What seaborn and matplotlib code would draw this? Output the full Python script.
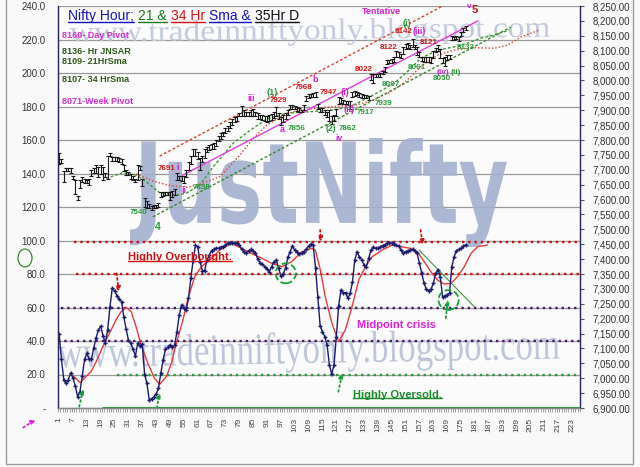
import numpy as np
import pandas as pd
import matplotlib
matplotlib.use("Agg")
import matplotlib.pyplot as plt
import seaborn as sns
from matplotlib.textpath import TextPath
from matplotlib.font_manager import FontProperties
from matplotlib.patches import PathPatch, Ellipse, Rectangle
from matplotlib.transforms import Affine2D
from matplotlib.lines import Line2D
from matplotlib.ticker import FuncFormatter, FixedLocator

# hourly oscillator (left axis), one value per bar
osc = [44, 29, 17, 14.7, 17, 21, 17.7, 13, 6.8, 9.7,
       19, 29, 32.6, 29, 29.3, 36, 42, 46.5, 49, 43,
       39, 46.5, 60.5, 71.5, 70, 67, 65, 63.5, 54.5, 47,
       40.6, 38.6, 35, 31, 38.6, 37, 38, 20, 14.7, 4.8,
       5.6, 6.6, 8.6, 11.7, 20.7, 28.6, 35, 36.2, 37.6, 36.6,
       37.6, 45.6, 55.5, 61.5, 59.5, 58.5, 65.5, 77.4, 88, 97.3,
       96.3, 87.3, 82, 82, 88.4, 91.3, 94, 94.8, 95.4, 95.4,
       96, 96.3, 97.3, 98.3, 98.7, 98.7, 98.5, 98.3, 97.5, 94.7,
       93.3, 92.7, 93.9, 94.7, 93.9, 92.7, 88.8, 86.8, 85.8, 84.4,
       82.8, 81.4, 84.4, 87.4, 88.4, 83.4, 78.8, 80, 83.4, 90,
       93.3, 96.7, 94.3, 93.3, 92, 92.3, 93.3, 94.7, 96.7, 97.9,
       97.3, 83.4, 66.5, 49, 45.6, 42.6, 37.6, 25.7, 20.3, 25.7,
       42.6, 60.9, 70.4, 68.8, 68.8, 65.5, 68.5, 75.4, 88.4, 93.3,
       90.3, 88.4, 85.4, 84.4, 89.4, 94.3, 95.9, 95.3, 95.3, 96.3,
       97, 97.5, 98.3, 98.7, 98.3, 97.9, 97.3, 96.7, 94.3, 92.7,
       93.3, 93.9, 94.3, 94.7, 93.9, 92.3, 86.4, 80.4, 74.4, 70.8,
       70, 70.8, 74.4, 80.4, 82.4, 78.4, 66.5, 66.9, 67.5, 68.5,
       84.4, 90.3, 93.9, 94.7, 95.3, 96.7, 97.5]

# red average of the oscillator
osc_avg_x = [6.8, 10.1, 12.6, 14.8, 17, 20.6, 23.5, 25.6, 27.8, 30, 32.2, 34.3, 36.5,
             39.4, 42.3, 44.5, 47.4, 49.6, 51.7, 54.6, 56.8, 59.7, 62.6, 67, 71.3, 75.7,
             80, 84.3, 88.7, 93, 97.4, 101.7, 106.1, 110.4, 111.9, 114.1, 116.2, 119.1,
             122, 124.9, 127.8, 130.7, 133.6, 136.5, 140.9, 145.2, 148.8, 153.2, 156.1,
             159, 161.9, 164.8, 167.7, 170.6, 173.5, 176.4, 179.3, 182.2, 186.5]
osc_avg_y = [19.7, 15.1, 18.7, 21.7, 27.6, 38.6, 46.6, 52.5, 57.5, 60.1, 57.5, 48.5, 37.6,
             26.7, 17.7, 14.1, 18.7, 26.7, 38.6, 52.5, 65.5, 78.4, 84.4, 89.4, 95.3, 98.3,
             95.3, 92.3, 89.4, 86.4, 84.4, 87.4, 93.3, 95.3, 94.3, 82.4, 66.5, 50.6,
             39.6, 46.6, 60.5, 76.4, 84.4, 90.3, 94.3, 97.3, 96.3, 95.3, 93.3,
             87.4, 81.4, 76.4, 74, 74.4, 78.4, 84.4, 92.3, 96.3, 97.3]

# hourly price bars (right axis)
price_low = [7720, 7722, 7660, 7695, 7695, 7688, 7668, 7620, 7600, 7640,
             7660, 7655, 7655, 7650, 7680, 7690, 7690, 7675, 7685, 7665,
             7675, 7670, 7745, 7730, 7728, 7728, 7725, 7718, 7695, 7683,
             7683, 7670, 7665, 7658, 7665, 7700, 7645, 7575, 7570, 7570,
             7565, 7570, 7572, 7575, 7610, 7612, 7615, 7615, 7600, 7610,
             7615, 7665, 7665, 7662, 7655, 7675, 7700, 7720, 7745, 7745,
             7735, 7700, 7725, 7740, 7760, 7765, 7770, 7770, 7780, 7795,
             7805, 7815, 7822, 7830, 7840, 7850, 7860, 7865, 7880, 7880,
             7880, 7882, 7880, 7882, 7880, 7882, 7870, 7872, 7868, 7865,
             7862, 7865, 7868, 7875, 7880, 7870, 7850, 7862, 7870, 7885,
             7905, 7905, 7903, 7898, 7895, 7895, 7900, 7930, 7940, 7945,
             7945, 7945, 7905, 7895, 7895, 7885, 7878, 7865, 7855, 7865,
             7880, 7920, 7925, 7920, 7920, 7918, 7905, 7945, 7948, 7950,
             7945, 7942, 7940, 7940, 7935, 8000, 7990, 8010, 8010, 8012,
             8020, 8028, 8055, 8058, 8060, 8062, 8078, 8080, 8075, 8090,
             8105, 8110, 8105, 8112, 8105, 8085, 8078, 8065, 8062, 8062,
             8062, 8060, 8075, 8095, 8100, 8075, 8060, 8050, 8070, 8072,
             8135, 8135, 8138, 8132, 8150, 8162, 8168]
price_high = [7755, 7735, 7695, 7705, 7705, 7705, 7680, 7665, 7612, 7665,
              7675, 7670, 7665, 7670, 7700, 7705, 7715, 7710, 7715, 7710,
              7690, 7745, 7755, 7742, 7742, 7742, 7738, 7735, 7715, 7698,
              7693, 7685, 7680, 7668, 7715, 7712, 7670, 7605, 7595, 7585,
              7578, 7582, 7582, 7588, 7625, 7625, 7625, 7625, 7625, 7630,
              7635, 7690, 7680, 7678, 7680, 7700, 7725, 7745, 7770, 7770,
              7760, 7740, 7745, 7770, 7778, 7782, 7785, 7790, 7800, 7812,
              7825, 7828, 7840, 7848, 7860, 7870, 7878, 7882, 7892, 7915,
              7900, 7895, 7895, 7900, 7905, 7895, 7890, 7885, 7885, 7882,
              7880, 7885, 7888, 7895, 7910, 7890, 7878, 7885, 7890, 7900,
              7918, 7918, 7915, 7912, 7908, 7902, 7918, 7948, 7955, 7955,
              7958, 7960, 7920, 7908, 7908, 7900, 7895, 7902, 7880, 7885,
              7905, 7945, 7940, 7935, 7932, 7932, 7930, 7960, 7965, 7962,
              7958, 7955, 7952, 7950, 7948, 8020, 8020, 8022, 8022, 8025,
              8032, 8045, 8070, 8068, 8072, 8078, 8100, 8095, 8090, 8112,
              8122, 8125, 8120, 8140, 8120, 8112, 8095, 8080, 8078, 8078,
              8078, 8080, 8098, 8110, 8120, 8105, 8075, 8080, 8085, 8085,
              8148, 8145, 8148, 8145, 8162, 8176, 8182]

# 21 hr and 34 hr averages on price (displaced)
sma21_x = [21.3, 28.5, 34.3, 38.7, 44.5, 51.7, 56, 61.9, 67.7, 76.3, 83.6, 90.9, 99.6,
           109.7, 119.8, 127, 137, 145.9, 151.7, 157.5, 164.8, 172, 177.8, 183.6, 189, 195.8]
sma21_y = [7671, 7690, 7682, 7660, 7623, 7615, 7621, 7649, 7710, 7789, 7832, 7871, 7890,
           7895, 7901, 7912, 7951, 7990, 8029, 8074, 8102, 8113, 8125, 8142, 8152, 8169]
sma34_x = [34.3, 42.3, 49.6, 56.8, 64, 70.6, 79.3, 85, 90.9, 98.1, 105.3, 119.8, 130,
           137, 145.9, 151.7, 157.5, 164.8, 172, 180.6, 189.3, 195, 201, 208.8]
sma34_y = [7686, 7660, 7646, 7641, 7657, 7677, 7750, 7806, 7850, 7884, 7901, 7912, 7918,
           7934, 7968, 8001, 8046, 8085, 8102, 8110, 8108, 8118, 8146, 8169]

# trend lines on price
channel_top_x, channel_top_y = [44.5, 171.9], [7746, 8270]
pink_line_x, pink_line_y = [54.5, 182.3], [7682, 8200]
support_x, support_y = [41.6, 196.6], [7542, 8179]
osc_trend_x, osc_trend_y = [156.8, 180.7], [94.3, 60.5]

# oscillator zones: (level, first bar, colour, style)
zones = [(99, 7.5, "#c81010", ":"), (80, 8.4, "#c81010", ":"),
         (59.5, 1.9, "#4a1a6a", ":"), (40.2, 0.5, "#4a1a6a", ":"),
         (19.7, 26.2, "#2a9a3a", ":"), (0, 19.7, "#1f9a2f", "-")]

# wave labels on price: text, bar, price, colour, size
wave_labels = [("7540", 35.3, 7558, "#2a9a3a", 5.8), ("4", 43.6, 7508, "#2a9a3a", 7.5),
               ("7691", 47.5, 7703, "#d01818", 5.8), ("i", 52.3, 7709, "#d020d0", 6.5),
               ("ii", 54.9, 7629, "#d020d0", 6.5), ("7658", 62.7, 7639, "#2a9a3a", 5.8),
               ("iii", 84, 7941, "#d020d0", 6.5), ("(1)", 93.2, 7961, "#2a9a3a", 6.5),
               ("7929", 95.8, 7934, "#d01818", 5.8), ("7968", 106.7, 7975, "#d01818", 5.8),
               ("b", 111.9, 8002, "#d020d0", 6.5), ("a", 97.5, 7834, "#d020d0", 6.5),
               ("7856", 103.6, 7837, "#2a9a3a", 5.8), ("7947", 117.5, 7958, "#d01818", 5.8),
               ("(i)", 124.5, 7961, "#d020d0", 6.5), ("(2)", 118.6, 7840, "#2a9a3a", 6.2),
               ("7862", 125.8, 7840, "#2a9a3a", 5.8), ("iv", 122.2, 7806, "#d020d0", 6.2),
               ("(ii)", 126.7, 7901, "#d020d0", 6.5), ("7917", 133.6, 7891, "#2a9a3a", 5.8),
               ("7939", 141.4, 7924, "#2a9a3a", 5.8), ("8007", 144.5, 7985, "#2a9a3a", 5.8),
               ("8022", 132.7, 8038, "#d01818", 5.8), ("8122", 143.6, 8112, "#d01818", 5.8),
               ("8142", 150.1, 8163, "#d01818", 5.8), ("(i)", 151.4, 8190, "#2a9a3a", 6.5),
               ("(iii)", 156.9, 8163, "#d020d0", 6.2), ("8121", 161, 8129, "#d01818", 5.8),
               ("8061", 155.8, 8045, "#2a9a3a", 5.8), ("(iv)", 167.0, 8028, "#d020d0", 6.0),
               ("(ii)", 172.6, 8028, "#2a9a3a", 6.0), ("8050", 166.7, 8005, "#2a9a3a", 5.8),
               ("8133", 177.1, 8112, "#2a9a3a", 5.8), ("Tentative", 140.6, 8233, "#d020d0", 6.5),
               ("v", 178.4, 8247, "#d020d0", 6), ("5", 181, 8237, "#d01818", 8)]

pivot_notes = ["8160- Day Pivot", "8136- Hr JNSAR", "8109- 21HrSma", "8107- 34 HrSma", "8071-Week Pivot"]
pivot_colors = ["#d030d0", "#2f5a1a", "#2f5a1a", "#2f5a1a", "#d030d0"]
pivot_rows = [35, 52, 62, 80, 101]

title_parts = ["Nifty Hour;", "21 &", "34 Hr", "Sma &", "35Hr D"]
title_colors = ["#1212c8", "#1a7a1a", "#e01010", "#1212c8", "#101010"]

bars = np.arange(1, len(osc) + 1)

W, H = 640, 467
sns.set_theme(style="white")
plt.rcParams["font.family"] = ["Liberation Sans", "DejaVu Sans"]

fig = plt.figure(figsize=(W / 100, H / 100), dpi=100, facecolor="#f9f9f9")
ax = fig.add_axes([58 / W, 1 - 408 / H, 522 / W, 402 / H])
ax.set_facecolor("#fbfbfb")
ax2 = ax.twinx()


def stamp(text, box, color, family, weight, rot=0.0, z=0.6, alpha=1.0):
    # fit a text outline into a pixel box (x0, top, x1, bottom)
    x0, y0, x1, y1 = box
    path = TextPath((0, 0), text, size=10, prop=FontProperties(family=family, weight=weight))
    ext = path.get_extents()
    tr = (Affine2D().translate(-ext.x0, -ext.y0)
          .scale((x1 - x0) / ext.width, (y1 - y0) / ext.height)
          .rotate_deg(rot).translate(x0, H - y1).scale(1 / W, 1 / H)) + fig.transFigure
    ax.add_patch(PathPatch(path, transform=tr, facecolor=color, edgecolor="none",
                           alpha=alpha, zorder=z, clip_on=False))


# watermarks
stamp("www.tradeinniftyonly.blogspot.com", (70, 21, 550, 48), "#c3cbdc", "Liberation Serif", "normal", 0.6)
stamp("www.tradeinniftyonly.blogspot.com", (58, 336, 560, 377), "#bec7da", "Liberation Serif", "normal", 1.0)
stamp("JustNifty", (130, 138, 507, 247), "#a4b0d0", "DejaVu Sans", "bold", 0, alpha=0.9)

# left axis: oscillator
ax.set_xlim(0.5, 226.5)
ax.set_ylim(0, 240)
ax.set_yticks(np.arange(0, 241, 20))
ax.yaxis.set_major_formatter(FuncFormatter(lambda v, p: "-" if v == 0 else f"{v:.1f}"))
ax.grid(axis="y", color="#9a9a9a", lw=0.9)
ax.grid(axis="x", visible=False)
ax.tick_params(axis="y", length=0, pad=9, labelsize=7, labelcolor="#333333")
ax.set_xticks(np.arange(1, 227, 6))
ax.set_xticklabels([str(t) for t in np.arange(1, 227, 6)], rotation=90)
ax.xaxis.set_minor_locator(FixedLocator(np.arange(0.5, 227, 1)))
ax.tick_params(axis="x", which="major", length=0, pad=7, labelsize=6, labelcolor="#444444")
ax.tick_params(axis="x", which="minor", bottom=True, length=3, width=0.6, color="#999999")

for lvl, start, col, ls in zones:
    ax.hlines(lvl, start, 226.5, colors=col, linestyles=ls, lw=1.7 if ls == ":" else 2.2, zorder=2)

sns.lineplot(x=osc_avg_x, y=osc_avg_y, ax=ax, color="#e83a3a", lw=1.0, zorder=3)
sns.lineplot(x=bars, y=osc, ax=ax, color="#1b1b70", lw=1.0, marker="+", markersize=3.5,
             markeredgewidth=1.0, markeredgecolor="#1b1b70", zorder=4)
ax.plot(osc_trend_x, osc_trend_y, color="#3a9a3a", lw=0.8, zorder=3)
ax.set_xlabel("")
ax.set_ylabel("")

# arrows and circles on oscillator
for (x0, y0), (x1, y1), col in [((25.9, 80.4), (26.8, 69.4), "#d01010"),
                                ((114, 106.3), (114.3, 99.3), "#d01010"),
                                ((157.5, 106.3), (158.3, 97.3), "#d01010"),
                                ((9.7, 0.8), (11.4, 11.3), "#1aa03a"),
                                ((43.3, 0), (44.5, 9), "#1aa03a"),
                                ((121.9, 9.7), (123.5, 20.9), "#1aa03a"),
                                ((168.4, 53.7), (169.3, 64.5), "#1aa03a")]:
    ax.annotate("", xy=(x1, y1), xytext=(x0, y0),
                arrowprops=dict(arrowstyle="-|>", color=col, lw=1.3, ls=":", mutation_scale=7,
                                shrinkA=0, shrinkB=0), zorder=5)
for cx, cy in [(99.1, 80.4), (169.6, 64.5)]:
    ax.add_patch(Ellipse((cx, cy), 8.7, 11.9, fill=False, ec="#1aa03a", lw=1.3, ls="--", zorder=5))

ob = ax.text(53.2, 90.1, "Highly Overbought.", color="#d01010", fontsize=8, fontweight="bold",
             ha="center", va="center", zorder=6)
ax.text(147.1, 49.6, "Midpoint crisis", color="#e020e0", fontsize=8, fontweight="bold",
        ha="center", va="center", zorder=6)
os_ = ax.text(147.5, 7.8, "Highly Oversold.", color="#1a8a2a", fontsize=8, fontweight="bold",
              ha="center", va="center", zorder=6)

# right axis: price bars
ax2.set_ylim(6900, 8250)
ax2.set_yticks(np.arange(6900, 8251, 50))
ax2.yaxis.set_major_formatter(FuncFormatter(lambda v, p: f"{v:,.2f}"))
ax2.tick_params(axis="y", length=3, width=0.8, color="#555555", pad=6, labelsize=7,
                labelcolor="#333333", right=True)
ax2.grid(False)
ax2.vlines(bars, price_low, price_high, colors="#1a1a1a", lw=0.8, zorder=3)
ax2.plot(bars, price_high, ls="none", marker="_", ms=2.2, mew=0.8, color="#1a1a1a", zorder=3)
ax2.plot(bars, price_low, ls="none", marker="_", ms=2.2, mew=0.8, color="#1a1a1a", zorder=3)
ax2.plot(sma21_x, sma21_y, color="#3a9a2a", lw=1.0, ls=(0, (2, 1.5)), zorder=2)
ax2.plot(sma34_x, sma34_y, color="#e04030", lw=1.0, ls=(0, (1, 1.5)), zorder=2)
ax2.plot(channel_top_x, channel_top_y, color="#e04030", lw=1.0, ls=(0, (2, 1.5)), zorder=2)
ax2.plot(pink_line_x, pink_line_y, color="#e040e0", lw=1.0, zorder=2)
ax2.plot(support_x, support_y, color="#3a8a2a", lw=1.0, ls=(0, (2, 1.5)), zorder=2)
for txt, bx, pr, col, fs in wave_labels:
    ax2.text(bx, pr, txt, color=col, fontsize=fs, fontweight="bold", ha="center", va="center", zorder=6)
ax2.set_xlim(0.5, 226.5)

for a in (ax, ax2):
    a.spines["top"].set_visible(False)
    a.spines["left"].set_color("#2b2b5e")
    a.spines["right"].set_color("#2b2b5e")
    a.spines["bottom"].set_color("#8a8a8a")
    for s in a.spines.values():
        s.set_linewidth(0.9)

# notes at top left
for txt, col, row in zip(pivot_notes, pivot_colors, pivot_rows):
    fig.text(62 / W, 1 - row / H, txt, color=col, fontsize=6.5, fontweight="bold", va="center")

# title in colours
prev = fig.text(68 / W, 1 - 16 / H, title_parts[0], color=title_colors[0], fontsize=10, va="center")
title_texts = [prev]
for part, col in zip(title_parts[1:], title_colors[1:]):
    prev = ax.annotate(part, xy=(1, 0), xycoords=prev, xytext=(3.0, 0), textcoords="offset points",
                       va="bottom", ha="left", fontsize=10, color=col, zorder=7)
    title_texts.append(prev)

# margin marks
fig.add_artist(Ellipse((25 / W, 1 - 258 / H), 14 / W, 18 / H, transform=fig.transFigure,
                       fill=False, ec="#3a8a2a", lw=0.9))
fig.add_artist(Rectangle((6 / W, 3 / H), 627 / W, 470 / H, transform=fig.transFigure,
                         fill=False, ec="#9a9a9a", lw=1.0))
ax.annotate("", xy=(38, H - 418), xytext=(21, H - 429), xycoords="figure pixels",
            textcoords="figure pixels", annotation_clip=False,
            arrowprops=dict(arrowstyle="-|>", color="#e020e0", lw=1.3, ls=":", mutation_scale=7))

# underlines
fig.canvas.draw()
rend = fig.canvas.get_renderer()
for t in title_texts + [ob, os_]:
    bb = t.get_window_extent(rend)
    yline = bb.y0 + 1.5
    fig.add_artist(Line2D([bb.x0 / W, bb.x1 / W], [yline / H, yline / H], color=t.get_color(),
                          lw=1.0, transform=fig.transFigure))

fig.savefig("out.png", dpi=100, facecolor=fig.get_facecolor())
